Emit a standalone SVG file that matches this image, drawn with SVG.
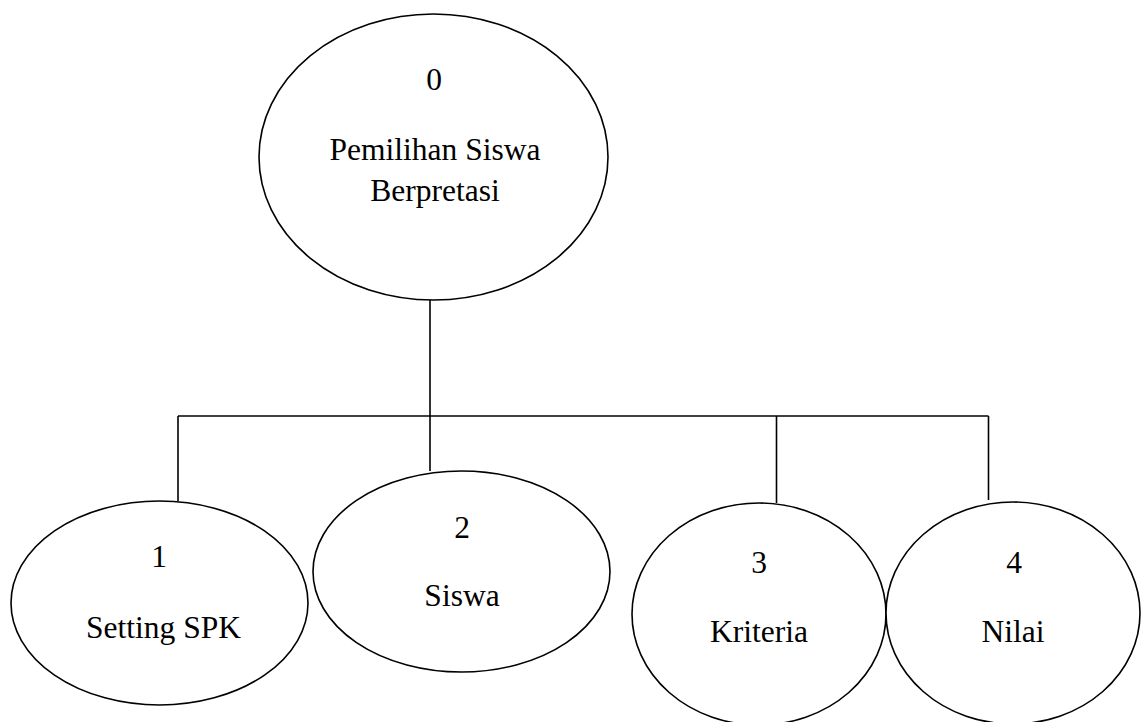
<svg xmlns="http://www.w3.org/2000/svg" width="1143" height="722" viewBox="0 0 1143 722">
  <style>
    .proc { fill: #ffffff; stroke: #000000; stroke-width: 1.6; }
    .link { fill: none; stroke: #000000; stroke-width: 1.6; }
    .lbl { font-family: "Liberation Serif", "Times New Roman", Times, serif; font-size: 31.5px; fill: #000000; text-anchor: middle; }
  </style>
  <rect width="1143" height="722" fill="#ffffff"/>

  <!-- tree connectors -->
  <g id="connectors">
    <path class="link" d="M430 300 V416"/>
    <path class="link" d="M178 416 H988.5"/>
    <path class="link" d="M178 416 V501"/>
    <path class="link" d="M430 416 V471"/>
    <path class="link" d="M776.5 416 V503"/>
    <path class="link" d="M988.5 416 V500"/>
  </g>

  <!-- root process -->
  <g id="node-0" font-family="'Liberation Serif', serif">
    <ellipse class="proc" cx="433.5" cy="157" rx="174.5" ry="143"/>
    <text class="lbl" x="434" y="90">0</text>
    <text class="lbl" x="435" y="160">Pemilihan Siswa</text>
    <text class="lbl" x="435" y="201">Berpretasi</text>
  </g>

  <g id="node-1" font-family="'Liberation Serif', serif">
    <ellipse class="proc" cx="159.5" cy="603" rx="148.5" ry="102"/>
    <text class="lbl" x="159" y="567">1</text>
    <text class="lbl" x="163.5" y="638">Setting SPK</text>
  </g>

  <g id="node-2" font-family="'Liberation Serif', serif">
    <ellipse class="proc" cx="461.5" cy="571.5" rx="148.5" ry="100.5"/>
    <text class="lbl" x="462" y="538">2</text>
    <text class="lbl" x="462" y="606">Siswa</text>
  </g>

  <g id="node-3" font-family="'Liberation Serif', serif">
    <ellipse class="proc" cx="759" cy="614" rx="127" ry="111"/>
    <text class="lbl" x="759" y="573">3</text>
    <text class="lbl" x="759" y="642">Kriteria</text>
  </g>

  <g id="node-4" font-family="'Liberation Serif', serif">
    <ellipse class="proc" cx="1013" cy="613" rx="127" ry="111"/>
    <text class="lbl" x="1014" y="573">4</text>
    <text class="lbl" x="1013" y="642">Nilai</text>
  </g>
</svg>
